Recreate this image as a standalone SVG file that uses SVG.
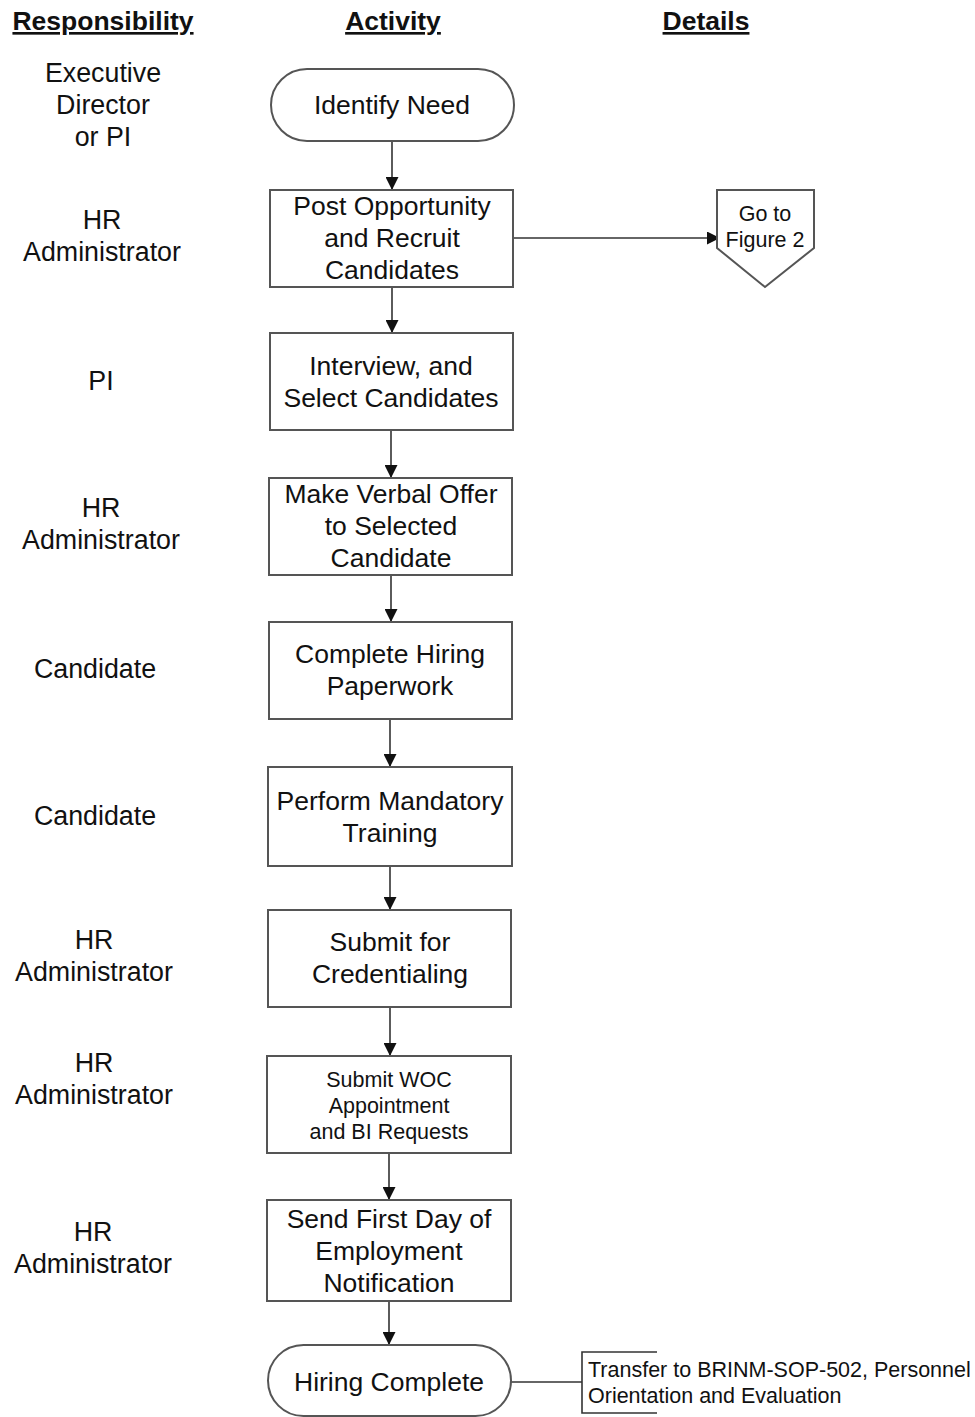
<svg xmlns="http://www.w3.org/2000/svg" width="975" height="1417" viewBox="0 0 975 1417">
<defs>
<style>
text{font-family:"Liberation Sans",Arial,sans-serif;fill:#111;}
.h{font-size:26.5px;font-weight:bold;text-anchor:middle;text-decoration:underline;}
.r{font-size:26.8px;text-anchor:middle;}
.n{font-size:26.5px;text-anchor:middle;}
.s{font-size:21.5px;text-anchor:middle;}
.a{font-size:21.5px;}
.box{fill:#fff;stroke:#555;stroke-width:2;}
.ln{fill:none;stroke:#333;stroke-width:1.6;}
</style>
<marker id="ah" viewBox="0 0 10 10" refX="10" refY="5" markerWidth="13" markerHeight="13" markerUnits="userSpaceOnUse" orient="auto">
<path d="M0,0 L10,5 L0,10 z" fill="#111"/>
</marker>
</defs>
<rect width="975" height="1417" fill="#fff"/>
<g id="headers">
<text class="h" x="103" y="30">Responsibility</text>
<text class="h" x="393" y="30">Activity</text>
<text class="h" x="706" y="30">Details</text>
</g>
<g id="responsibility">
<text class="r" x="103" y="82">Executive</text>
<text class="r" x="103" y="114">Director</text>
<text class="r" x="103" y="146">or PI</text>
<text class="r" x="102" y="229">HR</text>
<text class="r" x="102" y="261">Administrator</text>
<text class="r" x="101" y="390">PI</text>
<text class="r" x="101" y="517">HR</text>
<text class="r" x="101" y="549">Administrator</text>
<text class="r" x="95" y="678">Candidate</text>
<text class="r" x="95" y="825">Candidate</text>
<text class="r" x="94" y="949">HR</text>
<text class="r" x="94" y="981">Administrator</text>
<text class="r" x="94" y="1072">HR</text>
<text class="r" x="94" y="1104">Administrator</text>
<text class="r" x="93" y="1241">HR</text>
<text class="r" x="93" y="1273">Administrator</text>
</g>
<g id="connectors">
<line class="ln" x1="392" y1="141" x2="392" y2="190" marker-end="url(#ah)"/>
<line class="ln" x1="392" y1="287" x2="392" y2="333" marker-end="url(#ah)"/>
<line class="ln" x1="391" y1="430" x2="391" y2="478" marker-end="url(#ah)"/>
<line class="ln" x1="391" y1="575" x2="391" y2="622" marker-end="url(#ah)"/>
<line class="ln" x1="390" y1="719" x2="390" y2="767" marker-end="url(#ah)"/>
<line class="ln" x1="390" y1="866" x2="390" y2="910" marker-end="url(#ah)"/>
<line class="ln" x1="390" y1="1007" x2="390" y2="1056" marker-end="url(#ah)"/>
<line class="ln" x1="389" y1="1153" x2="389" y2="1200" marker-end="url(#ah)"/>
<line class="ln" x1="389" y1="1301" x2="389" y2="1345" marker-end="url(#ah)"/>
<line class="ln" x1="513" y1="238" x2="720" y2="238" marker-end="url(#ah)"/>
<line class="ln" x1="511" y1="1382" x2="582" y2="1382"/>
</g>
<g id="n1"><rect class="box" x="271" y="69" width="243" height="72" rx="36" ry="36"/><text class="n" x="392" y="114">Identify Need</text></g>
<g id="n2"><rect class="box" x="270" y="190" width="243" height="97"/><text class="n" x="392" y="215">Post Opportunity</text><text class="n" x="392" y="247">and Recruit</text><text class="n" x="392" y="279">Candidates</text></g>
<g id="n3"><rect class="box" x="270" y="333" width="243" height="97"/><text class="n" x="391" y="375">Interview, and</text><text class="n" x="391" y="407">Select Candidates</text></g>
<g id="n4"><rect class="box" x="269" y="478" width="243" height="97"/><text class="n" x="391" y="503">Make Verbal Offer</text><text class="n" x="391" y="535">to Selected</text><text class="n" x="391" y="567">Candidate</text></g>
<g id="n5"><rect class="box" x="269" y="622" width="243" height="97"/><text class="n" x="390" y="663">Complete Hiring</text><text class="n" x="390" y="695">Paperwork</text></g>
<g id="n6"><rect class="box" x="268" y="767" width="244" height="99"/><text class="n" x="390" y="810">Perform Mandatory</text><text class="n" x="390" y="842">Training</text></g>
<g id="n7"><rect class="box" x="268" y="910" width="243" height="97"/><text class="n" x="390" y="951">Submit for</text><text class="n" x="390" y="983">Credentialing</text></g>
<g id="n8"><rect class="box" x="267" y="1056" width="244" height="97"/><text class="s" x="389" y="1087">Submit WOC</text><text class="s" x="389" y="1113">Appointment</text><text class="s" x="389" y="1139">and BI Requests</text></g>
<g id="n9"><rect class="box" x="267" y="1200" width="244" height="101"/><text class="n" x="389" y="1228">Send First Day of</text><text class="n" x="389" y="1260">Employment</text><text class="n" x="389" y="1292">Notification</text></g>
<g id="n10"><rect class="box" x="268" y="1345" width="243" height="71" rx="35.5" ry="35.5"/><text class="n" x="389" y="1391">Hiring Complete</text></g>
<g id="offpage"><path class="box" d="M717,190 L814,190 L814,248 L765,287 L717,248 Z"/><text class="s" x="765" y="221">Go to</text><text class="s" x="765" y="247">Figure 2</text></g>
<g id="annotation"><path class="ln" d="M657,1352 L582,1352 L582,1413 L657,1413"/><text class="a" x="588" y="1377">Transfer to BRINM-SOP-502, Personnel</text><text class="a" x="588" y="1403">Orientation and Evaluation</text></g>
</svg>
